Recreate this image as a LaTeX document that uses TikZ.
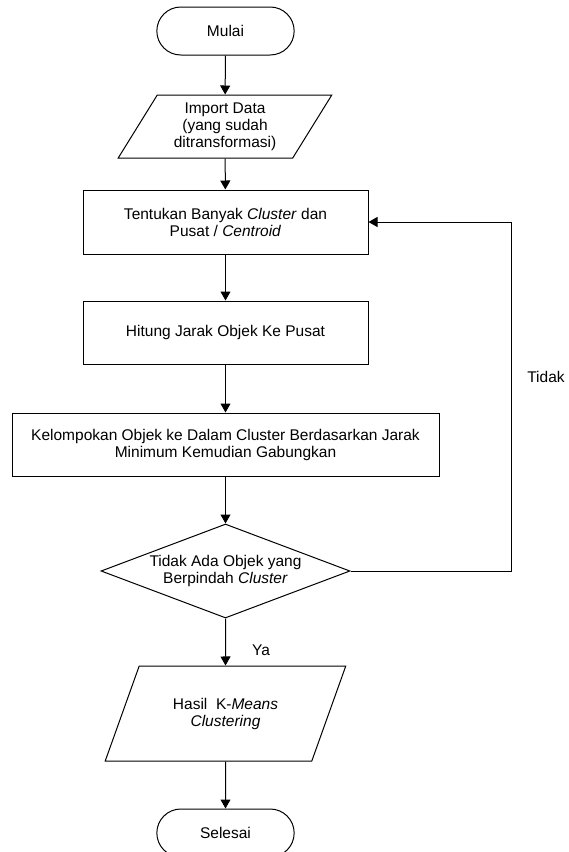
\documentclass[tikz,border=0pt]{standalone}
\usepackage{fontspec}
\setmainfont{Liberation Sans}
\usetikzlibrary{shapes.geometric,shapes.misc,arrows.meta}

\begin{document}
\begin{tikzpicture}[x=1pt, y=-1pt,
    every node/.style={font=\fontsize{15.5}{17}\selectfont, align=center},
    terminal/.style={draw=black, line width=1pt, rounded rectangle, minimum width=144pt, minimum height=48pt},
    io/.style={draw=black, line width=1pt, trapezium, trapezium left angle=60, trapezium right angle=120, trapezium stretches=true},
    process/.style={draw=black, line width=1pt, rectangle, minimum height=63pt},
    decision/.style={draw=black, line width=1pt, diamond, aspect=2.65, inner sep=0pt, minimum width=249pt, minimum height=94pt},
    flow/.style={draw=black, line width=1pt, -{Triangle[length=9pt, width=10pt]}}]
  \useasboundingbox (0,0) rectangle (569,852);

  % Flow steps
  \node[terminal] (mulai) at (225.5,31) {Mulai};
  \node[io, minimum width=214pt, minimum height=63pt] (import) at (225,126.5) {Import Data\\(yang sudah\\ditransformasi)};
  \node[process, minimum width=285pt, minimum height=64pt] (tentukan) at (225.5,222) {Tentukan Banyak \textit{Cluster} dan\\Pusat / \textit{Centroid}};
  \node[process, minimum width=285pt] (hitung) at (225.5,332.5) {Hitung Jarak Objek Ke Pusat};
  \node[process, minimum width=427pt] (kelompok) at (225.5,444.5) {Kelompokan Objek ke Dalam Cluster Berdasarkan Jarak\\Minimum Kemudian Gabungkan};
  \node[decision] (cek) at (225.5,571) {Tidak Ada Objek yang\\Berpindah \textit{Cluster}};
  \node[io, minimum width=241pt, minimum height=95pt] (hasil) at (225.5,713.5) {Hasil\ \ K-\textit{Means}\\\textit{Clustering}};
  \node[terminal] (selesai) at (225.5,833) {Selesai};

  % Arrows
  \draw[flow] (mulai) -- (import);
  \draw[flow] (import) -- (tentukan);
  \draw[flow] (tentukan) -- (hitung);
  \draw[flow] (hitung) -- (kelompok);
  \draw[flow] (kelompok) -- (cek);
  \draw[flow] (cek) -- (hasil);
  \draw[flow] (hasil) -- (selesai);

  % Loop back
  \coordinate (balik) at (511,571);
  \draw[flow] (cek.east) -- (balik) |- (tentukan.east);

  % Labels
  \node (tidak) at (546,377) {Tidak};
  \node (ya) at (261,650) {Ya};
\end{tikzpicture}
\end{document}
